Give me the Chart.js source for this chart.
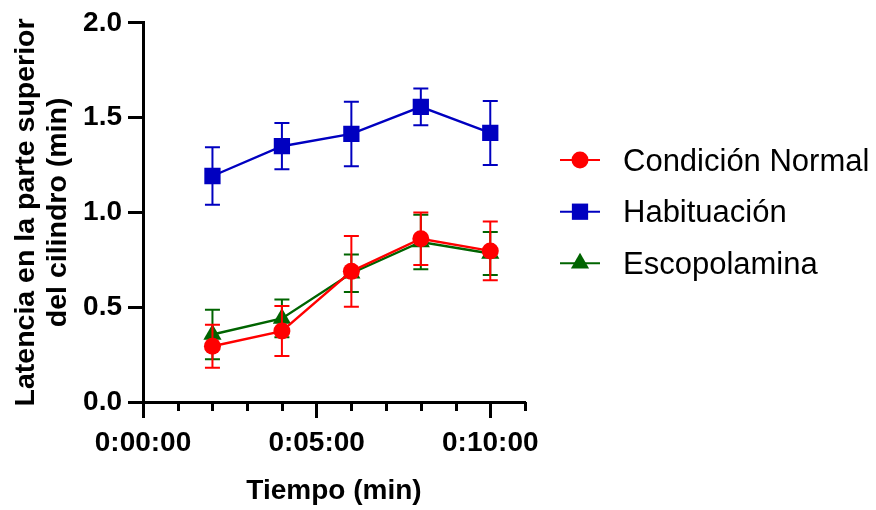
<!DOCTYPE html>
<html><head><meta charset="utf-8">
<script src="https://cdn.jsdelivr.net/npm/chart.js@4.4.1/dist/chart.umd.min.js"></script>
<style>html,body{margin:0;padding:0;background:#fff}</style>
</head><body>
<canvas id="c" width="876" height="510"></canvas>
<script>
// ---- data ----
const timesMin = [2, 4, 6, 8, 10];
const xTickValues = [0, 5, 10];
const xTickLabels = ['0:00:00', '0:05:00', '0:10:00'];
const yTickLabels = ['0.0', '0.5', '1.0', '1.5', '2.0'];
const seriesNames = ['Condición Normal', 'Habituación', 'Escopolamina'];
const normalMean = [0.294, 0.374, 0.689, 0.861, 0.797];
const normalErr  = [0.114, 0.132, 0.186, 0.139, 0.155];
const habMean    = [1.192, 1.349, 1.414, 1.557, 1.419];
const habErr     = [0.152, 0.122, 0.170, 0.097, 0.169];
const escoMean   = [0.356, 0.441, 0.679, 0.844, 0.783];
const escoErr    = [0.131, 0.100, 0.099, 0.144, 0.113];

const FONT = '"Liberation Sans", Arial, Helvetica, sans-serif';
const toPts = (m) => timesMin.map((t, i) => ({x: t, y: m[i]}));

const errPlugin = {
  id: 'errbars',
  beforeDatasetDraw(chart, args) {
    const ds = chart.data.datasets[args.index];
    const xs = chart.scales.x, ys = chart.scales.y, ctx = chart.ctx;
    ctx.save();
    ctx.strokeStyle = ds.borderColor;
    ctx.lineWidth = 2;
    ds.data.forEach((p, i) => {
      const e = ds.errors[i];
      const px = xs.getPixelForValue(p.x);
      const yt = ys.getPixelForValue(p.y + e), yb = ys.getPixelForValue(p.y - e);
      ctx.beginPath();
      ctx.moveTo(px, yt); ctx.lineTo(px, yb);
      ctx.moveTo(px - 7.5, yt); ctx.lineTo(px + 7.5, yt);
      ctx.moveTo(px - 7.5, yb); ctx.lineTo(px + 7.5, yb);
      ctx.stroke();
    });
    ctx.restore();
  }
};

const minorTicks = {
  id: 'minorTicks',
  afterDraw(chart) {
    const xs = chart.scales.x, ctx = chart.ctx, yb = chart.chartArea.bottom;
    ctx.save();
    ctx.strokeStyle = '#000';
    ctx.lineWidth = 3;
    for (let v = xs.min; v <= xs.max; v++) {
      if (xTickValues.includes(v)) continue;
      const px = Math.round(xs.getPixelForValue(v)) + 0.5;
      ctx.beginPath(); ctx.moveTo(px, yb); ctx.lineTo(px, yb + 9); ctx.stroke();
    }
    ctx.restore();
  }
};

function drawMarker(ctx, style, r, x, y) {
  ctx.beginPath();
  if (style === 'circle') {
    ctx.arc(x, y, r, 0, Math.PI * 2);
  } else if (style === 'rect') {
    const s = r * Math.SQRT1_2;
    ctx.rect(x - s, y - s, 2 * s, 2 * s);
  } else if (style === 'triangle') {
    ctx.moveTo(x, y - r);
    ctx.lineTo(x + r * Math.sin(Math.PI * 2 / 3), y - r * Math.cos(Math.PI * 2 / 3));
    ctx.lineTo(x + r * Math.sin(Math.PI * 4 / 3), y - r * Math.cos(Math.PI * 4 / 3));
    ctx.closePath();
  }
  ctx.fill();
}

const sideLegend = {
  id: 'sideLegend',
  afterDraw(chart) {
    const ctx = chart.ctx;
    const lineY = [160, 211.7, 263.3];
    chart.data.datasets.forEach((ds, i) => {
      const cy = lineY[i];
      ctx.save();
      ctx.strokeStyle = ds.borderColor;
      ctx.fillStyle = ds.backgroundColor;
      ctx.lineWidth = 2;
      ctx.beginPath(); ctx.moveTo(560, cy); ctx.lineTo(600, cy); ctx.stroke();
      drawMarker(ctx, ds.pointStyle, ds.pointRadius, 580, cy);
      ctx.fillStyle = '#000';
      ctx.font = '31px ' + FONT;
      ctx.textAlign = 'left';
      ctx.textBaseline = 'alphabetic';
      ctx.fillText(ds.label, 623, cy + 10.5);
      ctx.restore();
    });
  }
};

const colors = ['#FF0000', '#0000C0', '#006400'];
const styles = ['circle', 'rect', 'triangle'];
const radii = [8.5, 11.5, 10.5];
const means = [normalMean, habMean, escoMean];
const errs = [normalErr, habErr, escoErr];

new Chart(document.getElementById('c'), {
  type: 'line',
  data: {
    datasets: seriesNames.map((n, i) => ({
      label: n,
      data: toPts(means[i]),
      errors: errs[i],
      borderColor: colors[i],
      backgroundColor: colors[i],
      borderWidth: 2.4,
      pointStyle: styles[i],
      pointRadius: radii[i],
      pointHoverRadius: radii[i],
      pointBorderWidth: 0,
      tension: 0,
      fill: false
    }))
  },
  options: {
    responsive: false,
    animation: false,
    events: [],
    layout: {padding: {left: 0, top: 20, right: 351, bottom: 0}},
    plugins: {legend: {display: false}, tooltip: {enabled: false}},
    scales: {
      x: {
        type: 'linear', min: 0, max: 11,
        afterFit(s) { s.height = 108; },
        border: {display: true, color: '#000', width: 3},
        grid: {drawOnChartArea: false, drawTicks: true, tickLength: 16, tickWidth: 3,
               tickColor: (c) => xTickValues.includes(c.tick.value) ? '#000' : 'rgba(0,0,0,0)'},
        ticks: {
          stepSize: 1, autoSkip: false, maxRotation: 0, padding: 8, color: '#000',
          font: {family: FONT, size: 28, weight: 'bold', lineHeight: 1.2},
          callback: (v) => { const k = xTickValues.indexOf(v); return k >= 0 ? xTickLabels[k] : ''; }
        },
        title: {display: true, text: 'Tiempo (min)', color: '#000',
                font: {family: FONT, size: 28, weight: 'bold', lineHeight: 1.15},
                padding: {top: 0, bottom: 3}}
      },
      y: {
        type: 'linear', min: 0, max: 2,
        afterFit(s) { s.width = 143; },
        border: {display: true, color: '#000', width: 3},
        grid: {drawOnChartArea: false, drawTicks: true, tickLength: 15, tickWidth: 3, tickColor: '#000'},
        ticks: {
          stepSize: 0.5, padding: 6, color: '#000',
          font: {family: FONT, size: 28, weight: 'bold', lineHeight: 1.2},
          callback: (v) => yTickLabels[Math.round(v / 0.5)]
        },
        title: {display: true, text: ['Latencia en la parte superior', 'del cilindro (min)'], color: '#000',
                font: {family: FONT, size: 28.5, weight: 'bold', lineHeight: 1.13},
                padding: {top: 10, bottom: 0}}
      }
    }
  },
  plugins: [errPlugin, minorTicks, sideLegend]
});
</script>
</body></html>
